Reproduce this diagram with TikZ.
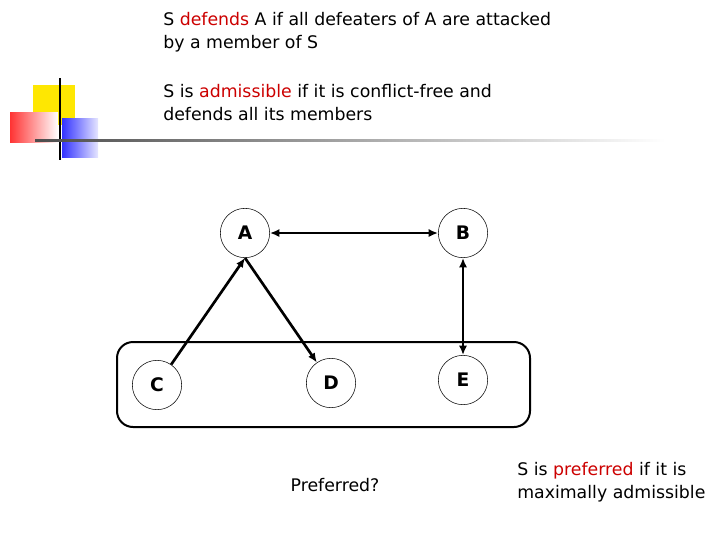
\documentclass[tikz,border=0pt]{standalone}
\usepackage{fontspec}
\setmainfont{DejaVu Sans}
\usetikzlibrary{arrows.meta}
\definecolor{myred}{RGB}{204,0,0}
\begin{document}
\begin{tikzpicture}[x=0.75pt,y=-0.75pt,
  arg/.style={circle,draw,thin,minimum size=37pt,inner sep=0pt,font=\bfseries\fontsize{14}{16}\selectfont},
  att/.style={line width=2pt,-{Latex[length=7pt,width=6pt]}},
  txt/.style={anchor=north west,align=left,font=\fontsize{13}{17}\selectfont,inner sep=0pt}]
\useasboundingbox (0,0) rectangle (720,540);
% logo
\fill[yellow!90!orange] (33,85) rectangle (75,125);
\shade[left color=red!80, right color=white] (10,112) rectangle (58,142);
\shade[left color=blue!80, right color=blue!10] (62,118) rectangle (98,157);
\draw[line width=1.2pt] (60,78) -- (60,160);
\shade[left color=black!70, right color=white] (35,139.5) rectangle (665,141);
% texts
\node[txt] (t1) at (163,12) {S \textcolor{myred}{defends} A if all defeaters of A are attacked\\by a member of S};
\node[txt] (t2) at (163,84) {S is \textcolor{myred}{admissible} if it is conflict-free and\\defends all its members};
\node[txt] (t3) at (517,462) {S is \textcolor{myred}{preferred} if it is\\maximally admissible};
\node[font=\fontsize{13}{17}\selectfont] (t4) at (335,485) {Preferred?};
% box
\draw[line width=1.5pt,rounded corners=12pt] (117,342) rectangle (530,427);
% nodes
\node[arg] (A) at (245,233) {A};
\node[arg] (B) at (463,233) {B};
\node[arg] (C) at (157,385) {C};
\node[arg] (D) at (331,383) {D};
\node[arg] (E) at (463,380) {E};
\draw[att,{Latex[length=7pt,width=6pt]}-{Latex[length=7pt,width=6pt]}] (A) -- (B);
\draw[att,{Latex[length=7pt,width=6pt]}-{Latex[length=7pt,width=6pt]}] (B) -- (E);
\draw[att] (C) -- (A.south);
\draw[att] (A.south) -- (D);
\end{tikzpicture}
\end{document}
